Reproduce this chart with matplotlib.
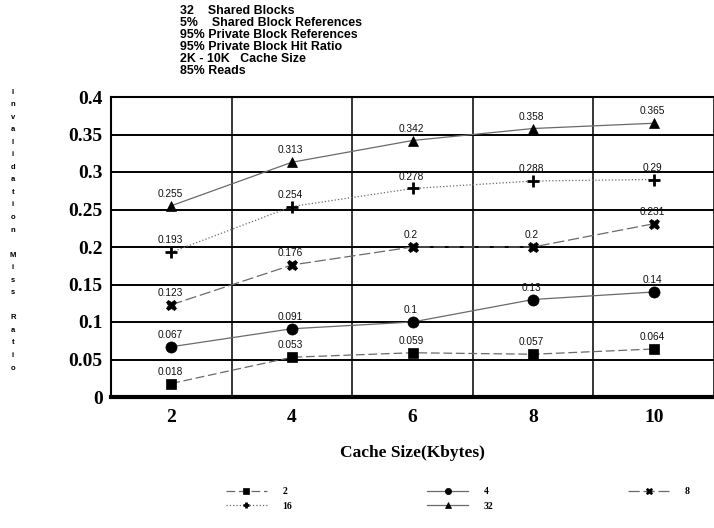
import matplotlib
matplotlib.use("Agg")
import matplotlib.pyplot as plt
import numpy as np

# Cache sizes (Kbytes) and invalidation miss ratios per number of processors
cache_sizes = ["2", "4", "6", "8", "10"]
series_names = ["2", "4", "8", "16", "32"]
miss_2 = [0.018, 0.053, 0.059, 0.057, 0.064]
miss_4 = [0.067, 0.091, 0.1, 0.13, 0.14]
miss_8 = [0.123, 0.176, 0.2, 0.2, 0.231]
miss_16 = [0.193, 0.254, 0.278, 0.288, 0.29]
miss_32 = [0.255, 0.313, 0.342, 0.358, 0.365]
y_ticks = [0, 0.05, 0.1, 0.15, 0.2, 0.25, 0.3, 0.35, 0.4]

notes = [
    "32    Shared Blocks",
    "5%    Shared Block References",
    "95% Private Block References",
    "95% Private Block Hit Ratio",
    "2K - 10K   Cache Size",
    "85% Reads",
]

W, H = 714, 528
fig = plt.figure(figsize=(W / 100, H / 100), dpi=100)
fig.patch.set_facecolor("white")

ax = fig.add_axes([111 / W, 1 - 397 / H, (W - 111) / W, 300 / H])
x = np.arange(len(cache_sizes))

styles = [
    (miss_2, "s", (0, (7, 3)), 7.5),
    (miss_4, "o", "-", 8),
    (miss_8, "X", (0, (9, 3)), 7.5),
    (miss_16, "P", ":", 7),
    (miss_32, "^", "-", 7),
]
handles = []
for name, (vals, mk, ls, ms) in zip(series_names, styles):
    h, = ax.plot(x, vals, linestyle=ls, color="#6a6a6a", lw=0.9,
                 marker=mk, markersize=ms, markerfacecolor="black",
                 markeredgecolor="black", markeredgewidth=0.5, label=name,
                 zorder=3)
    if mk == "P":
        h.set_marker("+")
        h.set_markeredgewidth(2.0)
        h.set_markersize(8.5)
    handles.append(h)
    for xi, v in zip(x, vals):
        ax.annotate(f"{v:g}", (xi, v), xytext=(-1, 5), textcoords="offset points",
                    ha="center", va="bottom", fontsize=7.3,
                    family="Liberation Sans", color="#111111", zorder=4)

ax.set_xlim(-0.5, -0.5 + (W - 111) / 122.0)
ax.set_ylim(0, 0.4)
ax.set_xticks(x)
ax.set_xticklabels(cache_sizes)
ax.set_xticks(np.arange(-0.5, len(cache_sizes)), minor=True)
ax.set_yticks(y_ticks)
ax.set_yticklabels([f"{t:g}" for t in y_ticks])
ax.tick_params(axis="both", which="both", length=0)
ax.tick_params(axis="y", pad=6)
ax.tick_params(axis="x", pad=9)
for lab in ax.get_xticklabels() + ax.get_yticklabels():
    lab.set_family("Liberation Serif")
    lab.set_fontweight("bold")
    lab.set_fontsize(14)

ax.grid(axis="y", which="major", color="black", lw=1.4)
ax.grid(axis="x", which="minor", color="black", lw=1.1)
ax.set_axisbelow(True)
ax.spines["right"].set_visible(False)
ax.spines["top"].set_linewidth(1.5)
ax.spines["left"].set_linewidth(1.5)
ax.spines["bottom"].set_linewidth(3.0)

ax.set_xlabel("Cache Size(Kbytes)", family="Liberation Serif", fontweight="bold",
              fontsize=12.5, labelpad=13)

# Stacked vertical y-axis title
ylabel = "Invalidation Miss Ratio"
y0, y1 = 92, 368
for i, ch in enumerate(ylabel):
    yy = y0 + (y1 - y0) * i / (len(ylabel) - 1)
    fig.text(13 / W, 1 - yy / H, ch, ha="center", va="center", fontsize=5.5,
             fontweight="bold", family="Liberation Sans")

# Simulation parameters in the header
for i, line in enumerate(notes):
    fig.text(180 / W, 1 - (11 + 12 * i) / H, line, ha="left", va="center",
             fontsize=8.9, family="Liberation Sans", fontweight="bold")

order = [0, 3, 1, 4, 2]
leg = fig.legend([handles[i] for i in order], [series_names[i] for i in order],
                 ncol=3, loc="upper left", bbox_to_anchor=(226 / W, 1 - 487 / H),
                 frameon=False, handlelength=4.2, handletextpad=1.6,
                 columnspacing=13.9, labelspacing=0.6, borderpad=0,
                 borderaxespad=0,
                 prop={"family": "Liberation Serif", "weight": "bold", "size": 7})
for lh in leg.legend_handles:
    lh.set_markersize(4.5)

fig.savefig("out.png", dpi=100, facecolor="white")
